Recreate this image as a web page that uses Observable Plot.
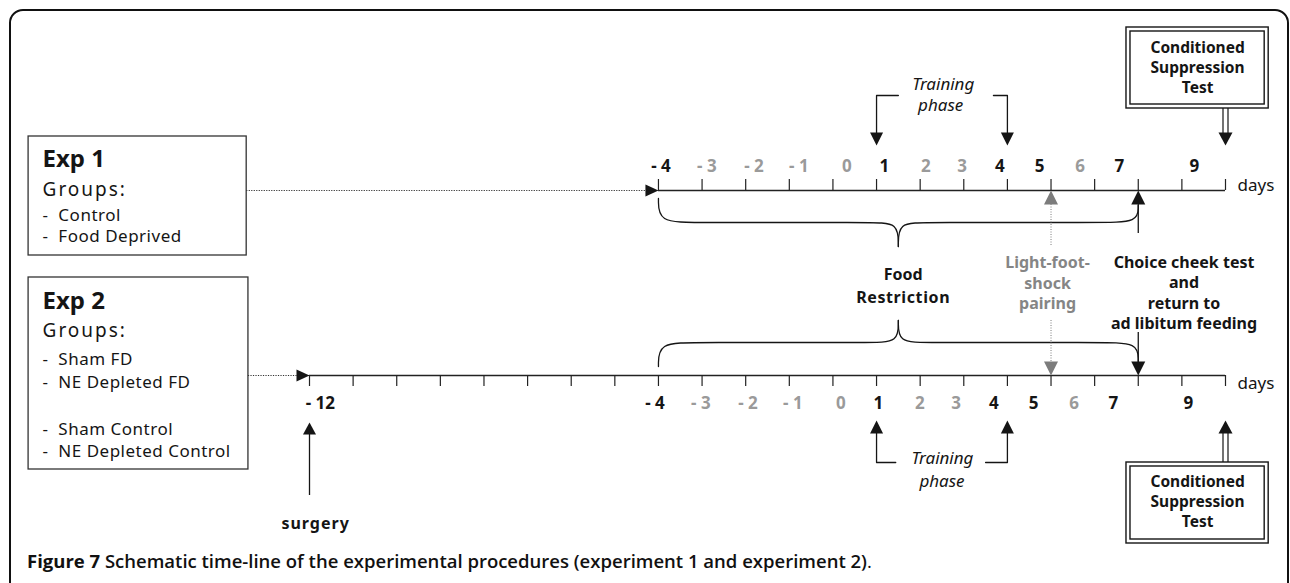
<!DOCTYPE html>
<html><head><meta charset="utf-8">
<script src="https://cdn.jsdelivr.net/npm/d3@7"></script>
<script src="https://cdn.jsdelivr.net/npm/@observablehq/plot@0.6"></script>
<style>
html,body{margin:0;padding:0;background:#fff;overflow:hidden;width:1290px;height:583px;}
#frame{position:absolute;left:9px;top:9px;width:1280px;height:700px;box-sizing:border-box;border:2px solid #111;border-radius:14px;}
#chart{position:absolute;left:0;top:0;}
#caption{position:absolute;left:27px;top:549px;font-family:"Open Sans",sans-serif;font-size:18.5px;line-height:24px;color:#111;font-weight:600;white-space:nowrap;}
#caption b{font-weight:700;}
#caption span{font-weight:400;}
</style></head><body>
<div id="frame"></div>
<div id="chart"></div>
<div id="caption"><b>Figure 7</b> Schematic time-line of the experimental procedures (experiment 1 and experiment 2)<span>.</span></div>
<script>
// ---------------- data ----------------
const exp1Days = [-4,-3,-2,-1,0,1,2,3,4,5,6,7,8,9];
const exp2Days = [-12,-11,-10,-9,-8,-7,-6,-5,-4,-3,-2,-1,0,1,2,3,4,5,6,7,8,9];
const dayLabels    = ["- 4","- 3","- 2","- 1","0","1","2","3","4","5","6","7","9"];
const dayLabelAt   = [-4.01,-2.96,-1.88,-0.85,0.25,1.11,2.06,2.89,3.76,4.67,5.60,6.50,8.22];
const dayLabelBold = [1,0,0,0,0,1,0,0,1,1,0,1,1];
const surgeryDay = -12;
const surgeryLabel = "- 12";
const surgeryLabelAt = -11.75;
const restrictionDays = [-4, 7];
const trainingDays = [1, 4];
const pairingDay = 5;
const choiceDay = 7;
const testDay = 9;

const exp1Lines = ["Exp 1", "Groups:", "-\u00a0\u00a0Control", "-\u00a0\u00a0Food Deprived"];
const exp2Lines = ["Exp 2", "Groups:", "-\u00a0\u00a0Sham FD", "-\u00a0\u00a0NE Depleted FD", "-\u00a0\u00a0Sham Control", "-\u00a0\u00a0NE Depleted Control"];
const restrictionText = ["Food", "Restriction"];
const trainingText = ["Training", "phase"];
const pairingText = ["Light-foot-", "shock", "pairing"];
const choiceText = ["Choice cheek test", "and", "return to", "ad libitum feeding"];
const testText = ["Conditioned", "Suppression", "Test"];
const surgeryText = "surgery";
const unitText = "days";

// ---------------- layout (day units on x, px-like units on y) ----------------
const W = 1290, H = 545;
const Y1 = 190, Y2 = 375;
const boxL = -18.44, box1R = -13.44, box2R = -13.40, boxTextX = -18.12;
const braceTip = 1.5;
const ink = "#151515", grayInk = "#9a9a9a", pairInk = "#7c7c7c";

// arrowhead symbols, tip at the anchor point
const head = (dir, w = 6.5, h = 13) => ({draw(c) {
  if (dir === "up")    { c.moveTo(0,0); c.lineTo(-w,h);  c.lineTo(w,h); }
  if (dir === "down")  { c.moveTo(0,0); c.lineTo(-w,-h); c.lineTo(w,-h); }
  if (dir === "right") { c.moveTo(0,0); c.lineTo(-h,-w); c.lineTo(-h,w); }
  c.closePath();
}});

const labelRows = dayLabels.map((t, i) => ({t, at: dayLabelAt[i], bold: !!dayLabelBold[i]}));

function braceHalves(key, x0, x1, xm, yEnd0, yLevel, yTip, yEnd1, cw) {
  const a = [[x0,yEnd0],[x0,yLevel],[x0+cw,yLevel],[xm-0.6,yLevel],[xm,yLevel],[xm,yTip]];
  const b = [[xm,yTip],[xm,yLevel],[xm+0.6,yLevel],[x1-cw,yLevel],[x1,yLevel],[x1,yEnd1]];
  return [...a.map(([x,y]) => ({x, y, z: key+"a"})), ...b.map(([x,y]) => ({x, y, z: key+"b"}))];
}
const braces = [
  ...braceHalves("top", restrictionDays[0], restrictionDays[1], braceTip, 198, 222, 246, 205, 0.85),
  ...braceHalves("bot", restrictionDays[0], restrictionDays[1], braceTip, 366, 342, 320, 361, 0.85)
];

const [t0, t1] = trainingDays;
const trainBrackets = [
  {x:t0,y:133,z:"tl"},{x:t0,y:95,z:"tl"},{x:1.5,y:95,z:"tl"},
  {x:3.68,y:95,z:"tr"},{x:t1,y:95,z:"tr"},{x:t1,y:133,z:"tr"},
  {x:t0,y:432,z:"bl"},{x:t0,y:462,z:"bl"},{x:1.44,y:462,z:"bl"},
  {x:3.5,y:462,z:"br"},{x:t1,y:462,z:"br"},{x:t1,y:432,z:"br"}
];

const textLines = (lines, x, ys) => lines.map((t, i) => ({t, x, y: ys[i]}));

const chart = Plot.plot({
  width: W, height: H, margin: 0,
  x: {type: "linear", domain: [-12, 9], range: [309, 1225], axis: null},
  y: {type: "linear", domain: [0, H], range: [0, H], axis: null},
  style: {fontFamily: "'Noto Sans', sans-serif", background: "transparent", overflow: "visible"},
  marks: [
    // group boxes
    Plot.rect([{a: boxL, b: box1R, t: 136, u: 255}, {a: boxL, b: box2R, t: 277, u: 469}],
      {x1: "a", x2: "b", y1: "t", y2: "u", fill: "none", stroke: "#333", strokeWidth: 1.3}),
    Plot.text(textLines(exp1Lines.slice(0,1), boxTextX, [159]).concat(textLines(exp2Lines.slice(0,1), boxTextX, [301])),
      {x: "x", y: "y", text: "t", textAnchor: "start", fontSize: 24, fontWeight: "bold", fill: ink}),
    Plot.text([{t: exp1Lines[1], x: boxTextX, y: 189.5}, {t: exp2Lines[1], x: boxTextX, y: 330.5}],
      {x: "x", y: "y", text: "t", textAnchor: "start", fontSize: 19, fill: ink}),
    Plot.text(textLines(exp1Lines.slice(2), boxTextX, [215.5, 236.5]).concat(textLines(exp2Lines.slice(2), boxTextX, [359, 382, 429, 451.5])),
      {x: "x", y: "y", text: "t", textAnchor: "start", fontSize: 17, fill: ink}),

    // dotted leaders to the time-lines
    Plot.ruleY([{y: Y1, a: box1R, b: restrictionDays[0]}, {y: Y2, a: box2R, b: surgeryDay}],
      {y: "y", x1: "a", x2: "b", stroke: "#333", strokeWidth: 1, strokeDasharray: "1.2,1.3"}),
    Plot.dot([{x: restrictionDays[0], y: Y1}, {x: surgeryDay, y: Y2}],
      {x: "x", y: "y", r: 1, symbol: head("right", 6, 13), fill: ink, stroke: "none"}),

    // time-lines and ticks
    Plot.ruleY([{y: Y1, a: exp1Days[0], b: exp1Days.at(-1)}, {y: Y2, a: exp2Days[0], b: exp2Days.at(-1)}],
      {y: "y", x1: "a", x2: "b", stroke: "#222", strokeWidth: 1.4}),
    Plot.ruleX(exp1Days, {x: d => d, y1: () => Y1 - 11, y2: () => Y1, stroke: "#222", strokeWidth: 1.2}),
    Plot.ruleX(exp2Days, {x: d => d, y1: () => Y2, y2: () => Y2 + 11, stroke: "#222", strokeWidth: 1.2}),

    // day labels
    Plot.text(labelRows.filter(d => d.bold), {x: "at", y: () => Y1 - 24, dx: 3, text: "t", fontSize: 17, fontWeight: "bold", fill: ink}),
    Plot.text(labelRows.filter(d => !d.bold), {x: "at", y: () => Y1 - 24, dx: 3, text: "t", fontSize: 17, fontWeight: "bold", fill: grayInk}),
    Plot.text(labelRows.filter(d => d.bold), {x: "at", y: () => Y2 + 28, dx: -3, text: "t", fontSize: 17, fontWeight: "bold", fill: ink}),
    Plot.text(labelRows.filter(d => !d.bold), {x: "at", y: () => Y2 + 28, dx: -3, text: "t", fontSize: 17, fontWeight: "bold", fill: grayInk}),
    Plot.text([{t: surgeryLabel, x: surgeryLabelAt}], {x: "x", y: () => Y2 + 28, text: "t", fontSize: 17, fontWeight: "bold", fill: ink}),
    Plot.text([{y: Y1 - 5}, {y: Y2 + 8}], {x: () => exp1Days.at(-1), y: "y", dx: 12, text: () => unitText, textAnchor: "start", fontSize: 17, fill: ink}),

    // food restriction braces
    Plot.line(braces, {x: "x", y: "y", z: "z", curve: "basis", stroke: ink, strokeWidth: 1.3}),
    Plot.text(textLines(restrictionText, 1.61, [274, 297]), {x: "x", y: "y", text: "t", fontSize: 16, fontWeight: "bold", fill: ink}),

    // training phase
    Plot.line(trainBrackets, {x: "x", y: "y", z: "z", stroke: ink, strokeWidth: 1.3}),
    Plot.dot(trainingDays.map(x => ({x, y: 145})), {x: "x", y: "y", r: 1, symbol: head("down"), fill: ink, stroke: "none"}),
    Plot.dot(trainingDays.map(x => ({x, y: 420})), {x: "x", y: "y", r: 1, symbol: head("up"), fill: ink, stroke: "none"}),
    Plot.text([{t: trainingText[0], x: 2.53, y: 84}, {t: trainingText[1], x: 2.47, y: 105},
               {t: trainingText[0], x: 2.51, y: 458}, {t: trainingText[1], x: 2.50, y: 481}],
      {x: "x", y: "y", text: "t", fontSize: 17, fontStyle: "italic", fill: ink}),

    // light-foot-shock pairing
    Plot.ruleX([{x: pairingDay, a: 204, b: 245}, {x: pairingDay, a: 320, b: 362}],
      {x: "x", y1: "a", y2: "b", stroke: pairInk, strokeWidth: 1, strokeDasharray: "1,1.5"}),
    Plot.dot([{x: pairingDay, y: Y1}], {x: "x", y: "y", r: 1, symbol: head("up", 7, 14), fill: pairInk, stroke: "none"}),
    Plot.dot([{x: pairingDay, y: Y2}], {x: "x", y: "y", r: 1, symbol: head("down", 7, 14), fill: pairInk, stroke: "none"}),
    Plot.text(textLines(pairingText, 4.92, [262, 283, 303]), {x: "x", y: "y", text: "t", fontSize: 16, fontWeight: "bold", fill: "#858585"}),

    // choice check test
    Plot.ruleX([{x: choiceDay, a: 203, b: 233}, {x: choiceDay, a: 332, b: 362}],
      {x: "x", y1: "a", y2: "b", stroke: ink, strokeWidth: 1.3}),
    Plot.dot([{x: choiceDay, y: Y1}], {x: "x", y: "y", r: 1, symbol: head("up", 7, 14), fill: ink, stroke: "none"}),
    Plot.dot([{x: choiceDay, y: Y2}], {x: "x", y: "y", r: 1, symbol: head("down", 7, 14), fill: ink, stroke: "none"}),
    Plot.text(textLines(choiceText, 8.05, [262, 282, 303, 323]), {x: "x", y: "y", text: "t", fontSize: 16, fontWeight: "bold", fill: ink}),

    // conditioned suppression test boxes
    Plot.rect([{a: 6.73, b: 9.99, t: 27, u: 108}, {a: 6.73, b: 9.99, t: 462, u: 543}],
      {x1: "a", x2: "b", y1: "t", y2: "u", fill: "#fff", stroke: ink, strokeWidth: 1.4}),
    Plot.rect([{a: 6.73, b: 9.99, t: 27, u: 108}, {a: 6.73, b: 9.99, t: 462, u: 543}],
      {x1: "a", x2: "b", y1: "t", y2: "u", inset: 4, fill: "none", stroke: ink, strokeWidth: 1.4}),
    Plot.text(textLines(testText, 8.36, [48, 68, 88]).concat(textLines(testText, 8.36, [482, 502, 522])),
      {x: "x", y: "y", text: "t", fontSize: 15.5, fontWeight: "bold", fill: ink}),
    Plot.ruleX([{x: testDay, a: 108, b: 133}, {x: testDay, a: 433, b: 462}], {x: "x", y1: "a", y2: "b", dx: -2.5, stroke: ink, strokeWidth: 1.2}),
    Plot.ruleX([{x: testDay, a: 108, b: 133}, {x: testDay, a: 433, b: 462}], {x: "x", y1: "a", y2: "b", dx: 2.5, stroke: ink, strokeWidth: 1.2}),
    Plot.dot([{x: testDay, y: 145}], {x: "x", y: "y", r: 1, symbol: head("down", 7, 13), fill: ink, stroke: "none"}),
    Plot.dot([{x: testDay, y: 420}], {x: "x", y: "y", r: 1, symbol: head("up", 7, 13), fill: ink, stroke: "none"}),

    // surgery
    Plot.ruleX([{x: surgeryDay, a: 433, b: 495}], {x: "x", y1: "a", y2: "b", stroke: ink, strokeWidth: 1.3}),
    Plot.dot([{x: surgeryDay, y: 422}], {x: "x", y: "y", r: 1, symbol: head("up", 6.5, 12), fill: ink, stroke: "none"}),
    Plot.text([{t: surgeryText, x: -11.86, y: 523}], {x: "x", y: "y", text: "t", fontSize: 16, fontWeight: "bold", fill: ink})
  ]
});
document.getElementById("chart").appendChild(chart);

// letter spacing quirks of the original lettering
const spacing = new Map([["Groups:", "2px"], ["Restriction", "0.6px"], ["surgery", "1px"]]);
exp1Lines.slice(2).concat(exp2Lines.slice(2)).forEach(t => spacing.set(t, "0.5px"));
d3.select(chart).selectAll("text").each(function () {
  const s = spacing.get(this.textContent);
  if (s) this.style.letterSpacing = s;
});
</script></body></html>
